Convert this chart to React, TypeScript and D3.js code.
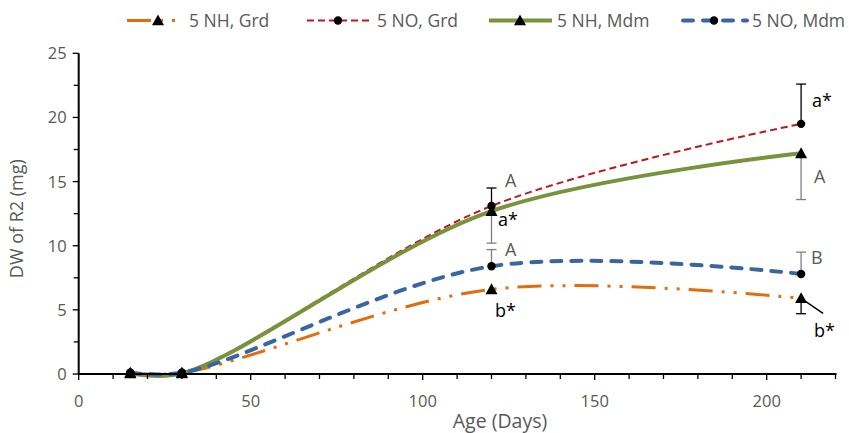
import React from 'react';
import * as d3 from 'd3';

// ---------- data ----------
const days = [15, 30, 120, 210];
const seriesNames = ['5 NH, Grd', '5 NO, Grd', '5 NH, Mdm', '5 NO, Mdm'];
const nhGrd = [0.1, 0.1, 6.6, 5.9];
const noGrd = [0.1, 0.1, 13.1, 19.5];
const nhMdm = [0.05, 0.05, 12.7, 17.2];
const noMdm = [0.1, 0.1, 8.4, 7.8];
// error bars: positive = drawn upward, negative = drawn downward, 0 = none
const nhGrdErr = [0, 0, 0, -1.2];
const noGrdErr = [0, 0, 1.4, 3.1];
const nhMdmErr = [0, 0, -2.5, -3.6];
const noMdmErr = [0, 0, 1.3, 1.7];
const xTicks = [0, 50, 100, 150, 200];
const yTicks = [0, 5, 10, 15, 20, 25];
const xTitle = 'Age (Days)';
const yTitle = 'DW of R2 (mg)';
// significance letters: [series index, point index, text]
const letterSeries = [1, 2, 3, 0, 1, 2, 3, 0];
const letterPoint = [2, 2, 2, 2, 3, 3, 3, 3];
const letterText = ['A', 'a*', 'A', 'b*', 'a*', 'A', 'B', 'b*'];

// ---------- styles / layout ----------
const W = 849, H = 433;
const X0 = 78.7, X1 = 835.5, Y0 = 374, Y1 = 53.3;
const colors = ['#E46C0A', '#C0161E', '#77933C', '#3A66A0'];
const widths = [3, 2, 4, 4];
const dashes = ['24,9,3,9,3,9', '7,4', null, '10,10'];
const caps = ['butt', 'butt', 'butt', 'round'];
const markers = ['tri', 'circ', 'tri', 'circ'];
const errColors = ['#000', '#000', '#7F7F7F', '#7F7F7F'];
const letterColors = ['#595959', '#000', '#595959', '#000', '#000', '#595959', '#595959', '#000'];
const letterDx = [13.5, 6.5, 13.5, 3.5, 11, 13, 10, 13];
const letterDy = [-19, 15, -10, 28, -17, 30, -10, 39];
const legendX = [127, 307, 489, 683];
const legendLen = [57, 65, 63, 64];
const legendMk = [31, 31, 31, 31];
const FONT = "'Open Sans', 'Noto Sans', sans-serif";
const GRAY = '#595959';

export default function App() {
  const values = [nhGrd, noGrd, nhMdm, noMdm];
  const errs = [nhGrdErr, noGrdErr, nhMdmErr, noMdmErr];
  const x = d3.scaleLinear().domain([0, 220]).range([X0, X1]);
  const y = d3.scaleLinear().domain([0, 25]).range([Y0, Y1]);
  const line = d3
    .line<[number, number]>()
    .x((d) => x(d[0]))
    .y((d) => y(d[1]))
    .curve(d3.curveCatmullRom.alpha(0.5));

  const tri = (cx: number, cy: number, s = 6) =>
    `M${cx},${cy - s}L${cx + s},${cy + s * 0.8}L${cx - s},${cy + s * 0.8}Z`;
  const marker = (kind: string, cx: number, cy: number, key: string) =>
    kind === 'tri' ? (
      <path key={key} d={tri(cx, cy)} fill="#000" />
    ) : (
      <circle key={key} cx={cx} cy={cy} r={4.2} fill="#000" />
    );

  const minorX = d3.range(0, 221, 10);
  const minorY = d3.range(0, 25.01, 2.5);

  return (
    <svg width={W} height={H} style={{ position: 'absolute', left: 0, top: 0 }} fontFamily={FONT}>
      <rect width={W} height={H} fill="#fff" />
      {/* series lines */}
      {values.map((vals, i) => (
        <path
          key={'l' + i}
          d={line(days.map((d, j) => [d, vals[j]]) as [number, number][]) || ''}
          fill="none"
          stroke={colors[i]}
          strokeWidth={widths[i]}
          strokeDasharray={dashes[i] || undefined}
          strokeLinecap={caps[i] as any}
        />
      ))}
      {/* error bars */}
      {errs.map((ev, i) =>
        ev.map((e, j) => {
          if (!e) return null;
          const px = x(days[j]);
          const py = y(values[i][j]);
          const ey = y(values[i][j] + e);
          return (
            <g key={`e${i}-${j}`} stroke={errColors[i]} strokeWidth={1.3}>
              <line x1={px} x2={px} y1={py} y2={ey} />
              <line x1={px - 5} x2={px + 5} y1={ey} y2={ey} />
            </g>
          );
        })
      )}
      {/* markers */}
      {values.map((vals, i) => vals.map((v, j) => marker(markers[i], x(days[j]), y(v), `m${i}-${j}`)))}
      {/* axes */}
      <line x1={X0} x2={X1 + 1} y1={Y0} y2={Y0} stroke="#000" strokeWidth={2} />
      <line x1={X0} x2={X0} y1={Y0 + 1} y2={Y1} stroke="#000" strokeWidth={2} />
      {minorX.map((t) => (
        <line key={'xt' + t} x1={x(t)} x2={x(t)} y1={Y0} y2={Y0 + (t % 50 === 0 ? 6 : 5)} stroke="#000" strokeWidth={1.3} />
      ))}
      {minorY.map((t) => (
        <line key={'yt' + t} x1={X0 - (t % 5 === 0 ? 6 : 5)} x2={X0} y1={y(t)} y2={y(t)} stroke="#000" strokeWidth={1.3} />
      ))}
      {xTicks.map((t) => (
        <text key={'xl' + t} x={x(t)} y={Y0 + 33} textAnchor="middle" fontSize={16.5} fill={GRAY}>
          {t}
        </text>
      ))}
      {yTicks.map((t) => (
        <text key={'yl' + t} x={X0 - 12} y={y(t) + 6} textAnchor="end" fontSize={16.5} fill={GRAY}>
          {t}
        </text>
      ))}
      <text x={500} y={428} textAnchor="middle" fontSize={19.5} fill={GRAY}>
        {xTitle}
      </text>
      <text transform={`translate(23,${(Y0 + Y1) / 2 + 5}) rotate(-90)`} textAnchor="middle" fontSize={18} fill={GRAY}>
        {yTitle}
      </text>
      {/* significance letters */}
      {letterText.map((t, k) => {
        const si = letterSeries[k];
        const pj = letterPoint[k];
        const px = x(days[pj]);
        const py = y(values[si][pj]);
        return (
          <text key={'lt' + k} x={px + letterDx[k]} y={py + letterDy[k]} fontSize={18} fill={letterColors[k]}>
            {t}
          </text>
        );
      })}
      {/* leader line for last b* */}
      <line x1={x(days[3])} y1={y(nhGrd[3])} x2={x(days[3]) + 22} y2={y(nhGrd[3]) + 15} stroke="#000" strokeWidth={1.5} />
      {/* legend */}
      {seriesNames.map((n, i) => {
        const lx = legendX[i];
        const len = legendLen[i];
        const ly = 20.5;
        return (
          <g key={'lg' + i}>
            <line
              x1={lx}
              x2={lx + len}
              y1={ly}
              y2={ly}
              stroke={colors[i]}
              strokeWidth={widths[i]}
              strokeDasharray={dashes[i] || undefined}
              strokeLinecap={caps[i] as any}
            />
            {marker(markers[i], lx + legendMk[i], ly, 'lm' + i)}
            <text x={lx + len + 5} y={ly + 6.5} fontSize={17.5} fill={GRAY}>
              {n}
            </text>
          </g>
        );
      })}
    </svg>
  );
}
